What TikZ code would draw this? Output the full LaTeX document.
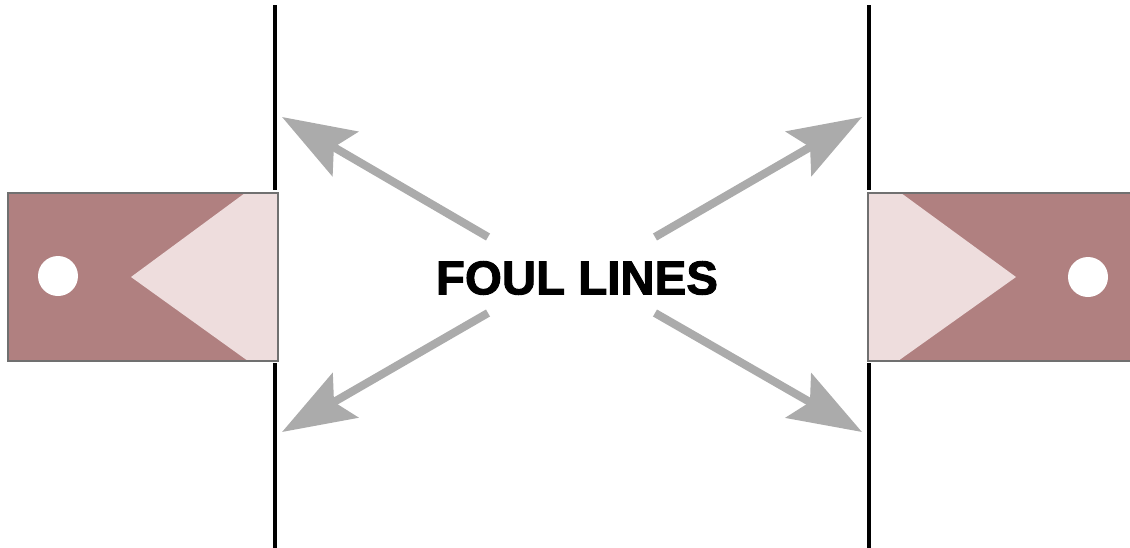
\documentclass[tikz,border=0pt]{standalone}
\usepackage{fontspec}
\setsansfont{Liberation Sans}[BoldFeatures={FakeBold=2}]
\usetikzlibrary{arrows.meta}
\definecolor{cbrown}{HTML}{B08080}
\definecolor{cpink}{HTML}{EEDDDD}
\definecolor{cgrey}{HTML}{ABABAB}
\definecolor{cedge}{HTML}{707070}
\tikzset{
  every picture/.style={font=\sffamily},
  foul/.style={draw=black, line width=2pt},
  slab/.style={fill=cbrown},
  slabedge/.style={draw=cedge, line width=0.6pt},
  wedge/.style={fill=cpink},
  hole/.style={fill=white},
  arrow/.style={-{Stealth[length=1.46cm, width=1.02cm, inset=0.26cm]}, draw=cgrey, line width=4.6pt},
  title/.style={font=\sffamily\bfseries\fontsize{27}{30}\selectfont, inner sep=0pt},
}

\begin{document}
\begin{tikzpicture}[x=0.02cm, y=-0.02cm]
  \useasboundingbox (0,0) rectangle (1130,548);
  % foul lines
  \draw[foul] (275,5) -- (275,190);
  \draw[foul] (275,363) -- (275,548);
  \draw[foul] (869,5) -- (869,190);
  \draw[foul] (869,363) -- (869,548);
  % left lane end
  \fill[slab] (8,193) rectangle (278,361);
  \fill[wedge] (245,193) -- (278,193) -- (278,361) -- (248,361) -- (131,277) -- cycle;
  \draw[slabedge] (8,193) rectangle (278,361);
  \fill[hole] (58,276) circle (20);
  % right lane end
  \fill[slab] (868,193) rectangle (1131,361);
  \fill[wedge] (868,193) -- (901,193) -- (1016,277) -- (898,361) -- (868,361) -- cycle;
  \draw[slabedge] (1131,193) -- (868,193) -- (868,361) -- (1131,361);
  \fill[hole] (1088,277) circle (20);
  % label and arrows
  \node[title] (label) at (577,278) {FOUL LINES};
  \coordinate (ul) at (488,237); \coordinate (ulTip) at (282,117);
  \coordinate (ur) at (655,237); \coordinate (urTip) at (862,117);
  \coordinate (ll) at (488,313); \coordinate (llTip) at (282,432);
  \coordinate (lr) at (655,313); \coordinate (lrTip) at (862,432);
  \draw[arrow] (ul) -- (ulTip);
  \draw[arrow] (ur) -- (urTip);
  \draw[arrow] (ll) -- (llTip);
  \draw[arrow] (lr) -- (lrTip);
\end{tikzpicture}
\end{document}
